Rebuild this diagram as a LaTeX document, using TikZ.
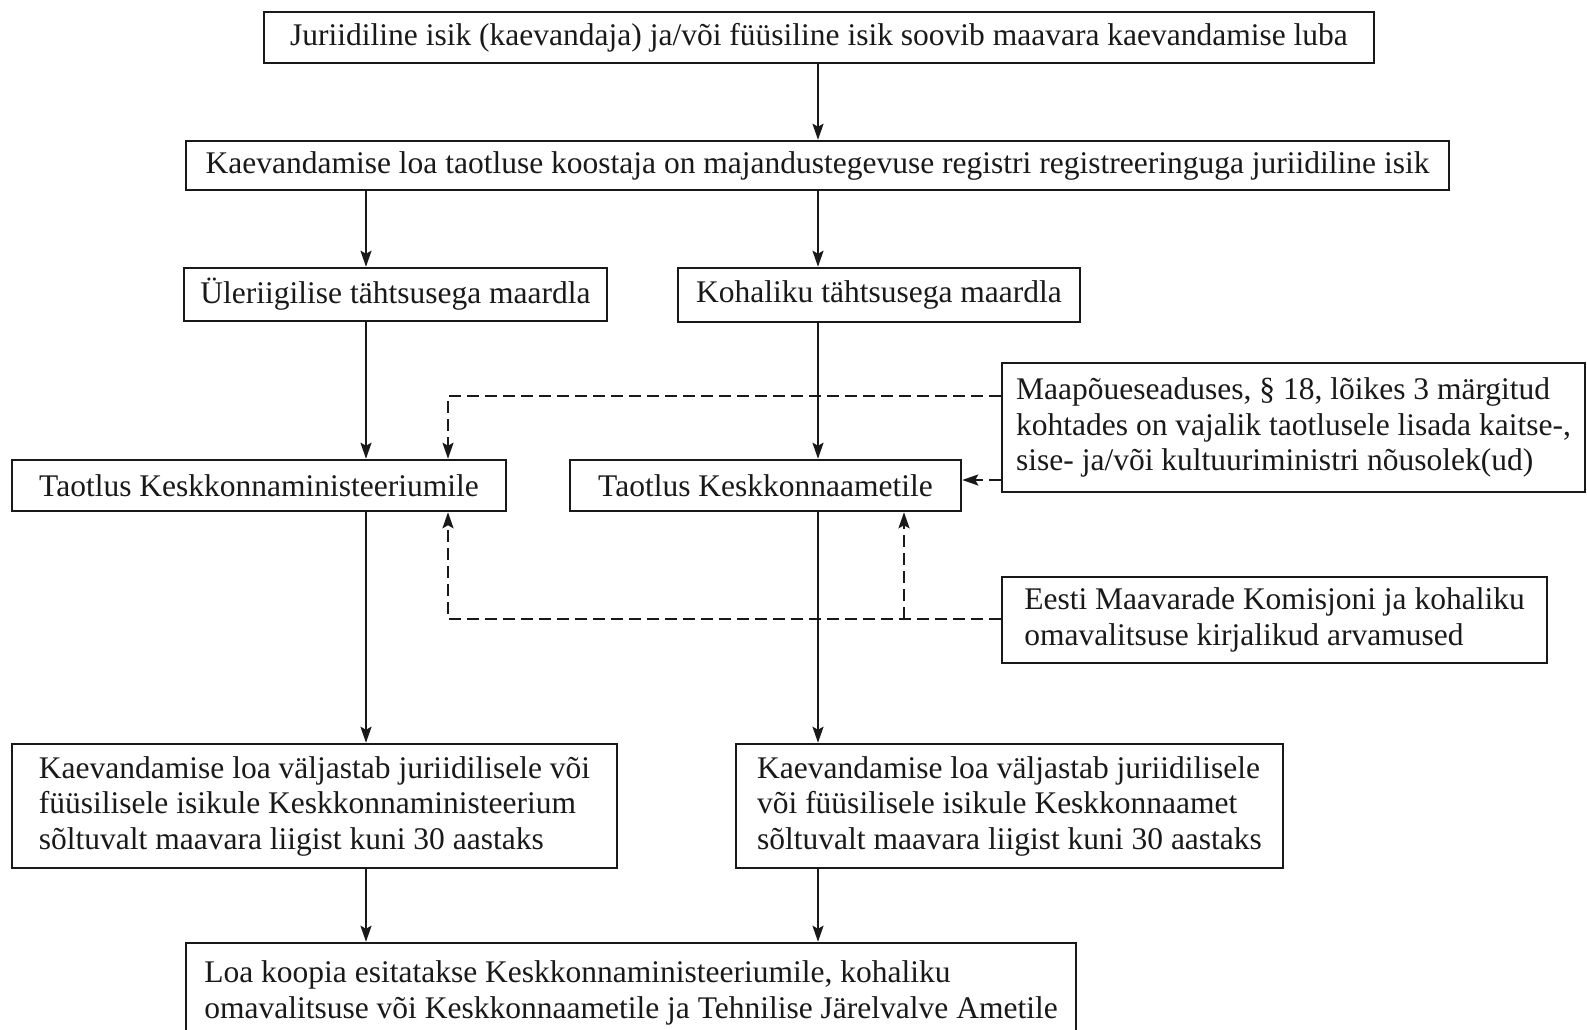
\documentclass[tikz,border=0pt]{standalone}
\usepackage{fontspec}
\setmainfont{Liberation Serif}
\usetikzlibrary{arrows.meta}
\begin{document}
\begin{tikzpicture}[x=1pt,y=-1pt,
  box/.style={draw=black!90, line width=2.5pt, inner sep=0pt, align=left,
    font=\fontsize{31.5}{35.5}\selectfont, text=black!90},
  arr/.style={line width=2.2pt, draw=black!90, -{Stealth[length=16pt,width=11pt,inset=3pt]}},
  darr/.style={arr, dash pattern=on 12pt off 6pt}]
\useasboundingbox[fill=white] (0,0) rectangle (1587,1029);
% column / row coordinates
\coordinate (cL) at (366,0);
\coordinate (cR) at (818,0);
\coordinate (cD) at (448,0);
\coordinate (cE) at (904,0);
\coordinate (yA) at (0,396);
\coordinate (yB) at (0,480);
\coordinate (yC) at (0,619);
% boxes
\node[box, minimum width=1110, minimum height=51] (b1) at (819,37.5)
  {Juriidiline isik (kaevandaja) ja/või füüsiline isik soovib maavara kaevandamise luba};
\node[box, minimum width=1263, minimum height=49] (b2) at (817.5,165.5)
  {Kaevandamise loa taotluse koostaja on majandustegevuse registri registreeringuga juriidiline isik};
\node[box, minimum width=423, minimum height=53] (b3) at (395.5,294.5)
  {Üleriigilise tähtsusega maardla};
\node[box, minimum width=402, minimum height=54] (b4) at (879,295)
  {Kohaliku tähtsusega maardla};
\node[box, minimum width=583, minimum height=129] (b5) at (1293.5,427.5)
  {Maapõueseaduses, § 18, lõikes 3 märgitud\\kohtades on vajalik taotlusele lisada kaitse-,\\sise- ja/või kultuuriministri nõusolek(ud)};
\node[box, minimum width=494, minimum height=51] (b6) at (259,485.5)
  {Taotlus Keskkonnaministeeriumile};
\node[box, minimum width=391, minimum height=51] (b7) at (765.5,485.5)
  {Taotlus Keskkonnaametile};
\node[box, minimum width=545, minimum height=86] (b8) at (1274.5,620)
  {Eesti Maavarade Komisjoni ja kohaliku\\omavalitsuse kirjalikud arvamused};
\node[box, minimum width=605, minimum height=124] (b9) at (314.5,806)
  {Kaevandamise loa väljastab juriidilisele või\\füüsilisele isikule Keskkonnaministeerium\\sõltuvalt maavara liigist kuni 30 aastaks};
\node[box, minimum width=547, minimum height=124] (b10) at (1009.5,806)
  {Kaevandamise loa väljastab juriidilisele\\või füüsilisele isikule Keskkonnaamet\\sõltuvalt maavara liigist kuni 30 aastaks};
\node[box, minimum width=890, minimum height=100] (b11) at (631,993)
  {Loa koopia esitatakse Keskkonnaministeeriumile, kohaliku\\omavalitsuse või Keskkonnaametile ja Tehnilise Järelvalve Ametile};
% solid arrows
\draw[arr] (b1.south -| cR) -- (b2.north -| cR);
\draw[arr] (b2.south -| cL) -- (b3.north -| cL);
\draw[arr] (b2.south -| cR) -- (b4.north -| cR);
\draw[arr] (b3.south -| cL) -- (b6.north -| cL);
\draw[arr] (b4.south -| cR) -- (b7.north -| cR);
\draw[arr] (b6.south -| cL) -- (b9.north -| cL);
\draw[arr] (b7.south -| cR) -- (b10.north -| cR);
\draw[arr] (b9.south -| cL) -- (b11.north -| cL);
\draw[arr] (b10.south -| cR) -- (b11.north -| cR);
% dashed arrows
\draw[darr] (b5.west |- yA) -- (yA -| cD) -- (b6.north -| cD);
\draw[darr] (b5.west |- yB) -- (b7.east |- yB);
\draw[darr] (b8.west |- yC) -- (yC -| cD) -- (b6.south -| cD);
\draw[darr] (yC -| cE) -- (b7.south -| cE);
\end{tikzpicture}
\end{document}
